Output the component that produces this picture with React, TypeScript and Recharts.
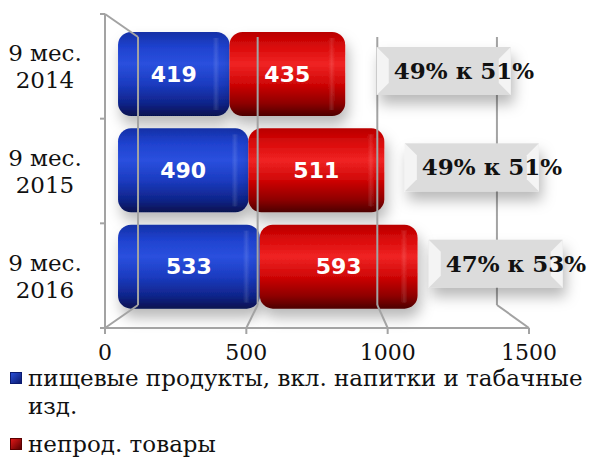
import React from "react";
import {
  BarChart,
  Bar,
  XAxis,
  YAxis,
  Legend,
  LabelList,
  ReferenceLine,
} from "recharts";

const periods = ["9 мес. 2014", "9 мес. 2015", "9 мес. 2016"];
const food = [419, 490, 533];
const nonFood = [435, 511, 593];
const shares = ["49% к 51%", "49% к 51%", "47% к 53%"];
const xTicks = [0, 500, 1000, 1500];
const seriesNames = ["пищевые продукты, вкл. напитки и табачные изд.", "непрод. товары"];

const data = periods.map((p, i) => ({
  period: p,
  food: food[i],
  nonFood: nonFood[i],
  total: food[i] + nonFood[i],
  share: shares[i],
}));

// pseudo-3D: the back wall and the bars sit on slightly narrower scales than the front axis
const FRONT_DOMAIN = [0, 1500];
const BAR_DOMAIN = [-49, 1545];
const LABEL_DOMAIN = [-569, 1651];
const WALL_DOMAIN = [-138, 1634];
const DEPTH_DOMAIN = [-86, 1086];

const toWall = (v: number) =>
  WALL_DOMAIN[0] + ((v - FRONT_DOMAIN[0]) / (FRONT_DOMAIN[1] - FRONT_DOMAIN[0])) * (WALL_DOMAIN[1] - WALL_DOMAIN[0]);

const SERIF = "'DejaVu Serif', serif";
const SANS = "'DejaVu Sans', sans-serif";
const AXIS = "#a3a3a3";

function CylBar(props: any) {
  const { x, y, width, height, fill } = props;
  if (!width || width <= 0) return null;
  return (
    <g filter="url(#shadow)">
      <rect x={x} y={y} width={width} height={height} rx={13} ry={13} fill={fill} />
      <rect x={x + width - 17} y={y + 6} width={7} height={height - 12} fill="url(#gShine)" />
    </g>
  );
}

function CatTick(props: any) {
  const { x, y, payload, index, visibleTicksCount } = props;
  const txt: string = payload.value;
  const cut = txt.lastIndexOf(" ");
  const cx = x - 52;
  const half = payload.offset || 0;
  const edge = x + 8;
  return (
    <g>
      {half > 0 && (
        <line x1={edge - 5} x2={edge} y1={y - half} y2={y - half} stroke={AXIS} strokeWidth={2} />
      )}
      {half > 0 && index === visibleTicksCount - 1 && (
        <line x1={edge - 5} x2={edge} y1={y + half} y2={y + half} stroke={AXIS} strokeWidth={2} />
      )}
      <text x={cx} y={y} textAnchor="middle" fontFamily={SERIF} fontSize={23} fill="#111">
        <tspan x={cx} dy={-5}>{txt.slice(0, cut)}</tspan>
        <tspan x={cx} dy={27}>{txt.slice(cut + 1)}</tspan>
      </text>
    </g>
  );
}

function ShareBox(props: any) {
  const { x, y, width, height, value } = props;
  const left = x + width;
  const cy = y + height / 2 - 3;
  const w = 134;
  const h = 48;
  const top = cy - h / 2;
  const b = 12;
  return (
    <g>
      <g filter="url(#shadow)">
        <rect x={left} y={top} width={w} height={h} fill="#dcdcdc" />
      </g>
      <polygon points={`${left},${top} ${left + b},${top + b} ${left + b},${top + h - b} ${left},${top + h}`} fill="#f4f4f4" />
      <polygon points={`${left + w},${top} ${left + w - b},${top + b} ${left + w - b},${top + h - b} ${left + w},${top + h}`} fill="#f4f4f4" />
      <text x={left + 17} y={cy + 8} fontFamily={SERIF} fontWeight="bold" fontSize={23} fill="#111">
        {value}
      </text>
    </g>
  );
}

function LegendBox() {
  const items = [
    { name: seriesNames[0], from: "#2a4fd6", to: "#0b1a70" },
    { name: seriesNames[1], from: "#e01818", to: "#5a0000" },
  ];
  return (
    <div style={{ fontFamily: SERIF, fontSize: 23, lineHeight: "28px", color: "#111" }}>
      {items.map((it, i) => (
        <div key={i} style={{ display: "flex", alignItems: "flex-start", marginBottom: 10, width: 600 }}>
          <span
            style={{
              display: "inline-block",
              width: 12,
              height: 12,
              marginTop: 8,
              marginRight: 6,
              marginLeft: 10,
              flex: "none",
              background: `linear-gradient(135deg, ${it.from}, ${it.to})`,
              border: `1px solid ${it.to}`,
              boxSizing: "border-box",
            }}
          />
          <span>{it.name}</span>
        </div>
      ))}
    </div>
  );
}

export default function App() {
  return (
    <div style={{ position: "absolute", left: 0, top: 0, width: 592, height: 459, background: "#fff", overflow: "hidden" }}>
      <BarChart
        width={592}
        height={459}
        data={data}
        layout="vertical"
        margin={{ top: 14, right: 63, bottom: 101, left: 0 }}
      >
        <defs>
          <linearGradient id="gBlue" x1="0" y1="0" x2="0" y2="1">
            <stop offset="0%" stopColor="#1430a6" />
            <stop offset="18%" stopColor="#1f42cf" />
            <stop offset="38%" stopColor="#2a50de" />
            <stop offset="62%" stopColor="#1b3bc0" />
            <stop offset="85%" stopColor="#0f248a" />
            <stop offset="100%" stopColor="#06114f" />
          </linearGradient>
          <linearGradient id="gRed" x1="0" y1="0" x2="0" y2="1">
            <stop offset="0%" stopColor="#b80000" />
            <stop offset="18%" stopColor="#da0a0a" />
            <stop offset="38%" stopColor="#f02424" />
            <stop offset="62%" stopColor="#cf0606" />
            <stop offset="85%" stopColor="#8e0000" />
            <stop offset="100%" stopColor="#4c0000" />
          </linearGradient>
          <linearGradient id="gShine" x1="0" y1="0" x2="1" y2="0">
            <stop offset="0%" stopColor="#fff" stopOpacity={0} />
            <stop offset="50%" stopColor="#fff" stopOpacity={0.12} />
            <stop offset="100%" stopColor="#fff" stopOpacity={0} />
          </linearGradient>
          <filter id="shadow" x="-20%" y="-30%" width="150%" height="180%">
            <feDropShadow dx={3} dy={9} stdDeviation={7} floodColor="#000" floodOpacity={0.28} />
          </filter>
        </defs>
        <XAxis
          xAxisId="axis"
          type="number"
          domain={FRONT_DOMAIN}
          allowDataOverflow
          ticks={xTicks}
          height={30}
          tickSize={6}
          tickMargin={10}
          axisLine={{ stroke: AXIS, strokeWidth: 2 }}
          tickLine={{ stroke: AXIS, strokeWidth: 2 }}
          tick={{ fontFamily: SERIF, fontSize: 22, fill: "#111" }}
        />
        <XAxis xAxisId="bar" type="number" domain={BAR_DOMAIN} hide allowDataOverflow height={0} />
        <XAxis xAxisId="lbl" type="number" domain={LABEL_DOMAIN} hide allowDataOverflow height={0} />
        <XAxis xAxisId="wall" type="number" domain={WALL_DOMAIN} hide allowDataOverflow height={0} />
        <YAxis
          yAxisId="cat"
          type="category"
          dataKey="period"
          width={105}
          axisLine={{ stroke: AXIS, strokeWidth: 2 }}
          tickLine={false}
          tick={<CatTick />}
        />
        <YAxis yAxisId="bar" type="category" dataKey="period" hide width={0} padding={{ top: 12, bottom: 13 }} />
        <YAxis yAxisId="bar2" type="category" dataKey="period" hide width={0} padding={{ top: 12, bottom: 13 }} />
        <YAxis
          yAxisId="depth"
          type="number"
          dataKey="total"
          domain={DEPTH_DOMAIN}
          reversed
          hide
          width={0}
          allowDataOverflow
        />
        {/* keeps the visible axes tied to a series */}
        <Bar
          dataKey="total"
          xAxisId="axis"
          yAxisId="cat"
          fill="none"
          isAnimationActive={false}
          legendType="none"
        />
        {xTicks.map((v) => (
          <ReferenceLine
            key={"w" + v}
            xAxisId="wall"
            yAxisId="depth"
            segment={[{ x: v, y: 0 }, { x: v, y: 1000 }]}
            stroke={AXIS}
            strokeWidth={2}
          />
        ))}
        {xTicks.map((v) => (
          <ReferenceLine
            key={"f" + v}
            xAxisId="wall"
            yAxisId="depth"
            segment={[{ x: v, y: 0 }, { x: toWall(v), y: DEPTH_DOMAIN[0] }]}
            stroke={AXIS}
            strokeWidth={2}
          />
        ))}
        <ReferenceLine
          xAxisId="wall"
          yAxisId="depth"
          segment={[{ x: 0, y: 1000 }, { x: toWall(0), y: DEPTH_DOMAIN[1] }]}
          stroke={AXIS}
          strokeWidth={2}
        />
        <Bar
          dataKey="total"
          xAxisId="lbl"
          yAxisId="bar2"
          barSize={48}
          fill="none"
          isAnimationActive={false}
          legendType="none"
        >
          <LabelList dataKey="share" content={<ShareBox />} />
        </Bar>
        <Bar
          dataKey="food"
          name={seriesNames[0]}
          stackId="s"
          xAxisId="bar"
          yAxisId="bar"
          barSize={84}
          fill="url(#gBlue)"
          shape={<CylBar />}
          isAnimationActive={false}
        >
          <LabelList dataKey="food" position="center" fill="#fff" fontFamily={SANS} fontWeight="bold" fontSize={22} />
        </Bar>
        <Bar
          dataKey="nonFood"
          name={seriesNames[1]}
          stackId="s"
          xAxisId="bar"
          yAxisId="bar"
          barSize={84}
          fill="url(#gRed)"
          shape={<CylBar />}
          isAnimationActive={false}
        >
          <LabelList dataKey="nonFood" position="center" fill="#fff" fontFamily={SANS} fontWeight="bold" fontSize={22} />
        </Bar>
        <Legend
          layout="horizontal"
          verticalAlign="middle"
          align="center"
          content={<LegendBox />}
          wrapperStyle={{ top: 364, left: 0, width: 600 }}
        />
      </BarChart>
    </div>
  );
}
